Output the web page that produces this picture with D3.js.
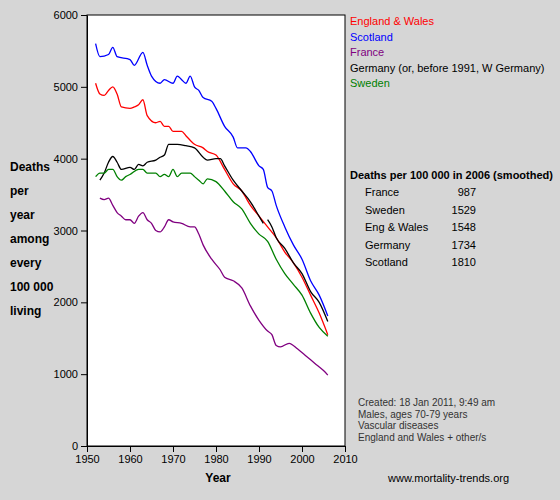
<!DOCTYPE html><html><head><meta charset="utf-8"><script src="https://cdn.jsdelivr.net/npm/d3@7"></script>
<style>body{margin:0;background:#d6d6d6;}text{font-family:Arial,"Liberation Sans",sans-serif;}</style></head><body><svg id="c" width="560" height="500"></svg><script>
const seriesNames=["England & Wales","Scotland","France","Germany (or, before 1991, W Germany)","Sweden"];
const colors=["#ff0000","#0000ff","#800080","#000000","#008000"];
const ew=[[1952,5050],[1953,4900],[1954,4880],[1955,4950],[1956,5000],[1957,4900],[1958,4720],[1960,4700],[1961,4720],[1962,4750],[1963,4820],[1964,4600],[1966,4500],[1967,4520],[1968,4450],[1969,4450],[1970,4380],[1972,4380],[1973,4320],[1975,4200],[1977,4150],[1978,4100],[1980,4050],[1982,3850],[1984,3650],[1986,3550],[1988,3350],[1990,3200],[1992,3050],[1994,2900],[1996,2700],[1998,2550],[2000,2350],[2002,2100],[2004,1850],[2006,1548]];
const scot=[[1952,5600],[1953,5420],[1955,5450],[1956,5550],[1957,5420],[1960,5380],[1961,5300],[1963,5480],[1964,5300],[1965,5150],[1967,5050],[1968,5100],[1970,5050],[1971,5150],[1972,5100],[1973,5050],[1974,5150],[1975,5000],[1976,4950],[1977,4850],[1979,4800],[1980,4700],[1982,4450],[1984,4300],[1985,4150],[1987,4150],[1988,4100],[1990,3900],[1991,3850],[1992,3600],[1993,3550],[1994,3350],[1996,3050],[1998,2800],[2000,2600],[2002,2300],[2004,2100],[2006,1810]];
const france=[[1953,3450],[1954,3430],[1955,3450],[1956,3350],[1957,3250],[1958,3200],[1959,3150],[1960,3150],[1961,3100],[1962,3200],[1963,3250],[1964,3150],[1965,3100],[1966,3000],[1967,2980],[1968,3050],[1969,3150],[1970,3120],[1972,3100],[1974,3050],[1975,3050],[1976,2950],[1977,2800],[1979,2600],[1981,2450],[1982,2350],[1984,2300],[1986,2200],[1988,1950],[1990,1750],[1992,1600],[1993,1550],[1994,1400],[1995,1380],[1997,1430],[1999,1350],[2001,1250],[2003,1150],[2005,1050],[2006,987]];
const germanyW=[[1953,3700],[1954,3800],[1955,3950],[1956,4030],[1957,3950],[1958,3850],[1960,3880],[1961,3850],[1962,3920],[1963,3900],[1964,3950],[1966,3980],[1967,4020],[1968,4050],[1969,4200],[1971,4200],[1973,4180],[1975,4150],[1977,4020],[1978,3980],[1980,4000],[1981,4000],[1982,3900],[1984,3700],[1986,3550],[1988,3400],[1990,3200],[1991,3100]];
const germany=[[1992,3150],[1993,3050],[1994,2900],[1996,2750],[1998,2550],[2000,2400],[2002,2150],[2004,2000],[2006,1734]];
const sweden=[[1952,3750],[1953,3800],[1954,3800],[1955,3850],[1956,3850],[1957,3750],[1958,3700],[1959,3750],[1960,3780],[1962,3850],[1963,3850],[1964,3800],[1966,3800],[1967,3750],[1968,3780],[1969,3750],[1970,3850],[1971,3750],[1972,3800],[1974,3800],[1975,3750],[1976,3700],[1977,3650],[1978,3720],[1980,3680],[1982,3550],[1984,3400],[1986,3300],[1988,3100],[1990,2950],[1992,2850],[1994,2600],[1996,2400],[1998,2250],[2000,2100],[2002,1850],[2004,1650],[2006,1529]];
const tableNames=["France","Sweden","Eng & Wales","Germany","Scotland"];
const tableValues=[987,1529,1548,1734,1810];
const notes=["Created: 18 Jan 2011, 9:49 am","Males, ages 70-79 years","Vascular diseases","England and Wales + other/s"];
const yLabel=["Deaths","per","year","among","every","100 000","living"];

const svg=d3.select("#c");
const x=d3.scaleLinear().domain([1950,2010]).range([87,345]);
const y=d3.scaleLinear().domain([0,6000]).range([446,15]);
svg.append("rect").attr("x",87).attr("y",15).attr("width",258).attr("height",431).attr("fill","#fff").attr("stroke","#000");
svg.append("g").attr("transform","translate(0,446)").call(d3.axisBottom(x).tickValues(d3.range(1950,2011,10)).tickFormat(d3.format("d")).tickSizeOuter(0)).call(g=>g.selectAll("text").attr("font-size",11).attr("fill","#000"));
svg.append("g").attr("transform","translate(87,0)").call(d3.axisLeft(y).tickValues(d3.range(0,6001,1000)).tickFormat(d3.format("d")).tickSizeOuter(0)).call(g=>g.selectAll("text").attr("font-size",11).attr("fill","#000"));
const line=d3.line().x(d=>x(d[0])).y(d=>y(d[1])).curve(d3.curveMonotoneX);
const lines=[[ew,0],[scot,1],[france,2],[germanyW,3],[germany,3],[sweden,4]];
lines.forEach(([d,i])=>svg.append("path").attr("d",line(d)).attr("fill","none").attr("stroke",colors[i]).attr("stroke-width",1.3));
seriesNames.forEach((n,i)=>svg.append("text").attr("x",350).attr("y",25+i*15.5).attr("font-size",11).attr("fill",colors[i]).text(n));
svg.append("text").attr("x",350).attr("y",179).attr("font-size",11).attr("font-weight","bold").text("Deaths per 100 000 in 2006 (smoothed)");
tableNames.forEach((n,i)=>{svg.append("text").attr("x",365).attr("y",196+i*17.5).attr("font-size",11).text(n);
svg.append("text").attr("x",476).attr("y",196+i*17.5).attr("font-size",11).attr("text-anchor","end").text(tableValues[i]);});
notes.forEach((n,i)=>svg.append("text").attr("x",358).attr("y",406+i*11.5).attr("font-size",10).attr("fill","#333").text(n));
svg.append("text").attr("x",388).attr("y",482).attr("font-size",11).text("www.mortality-trends.org");
svg.append("text").attr("x",218).attr("y",482).attr("font-size",12).attr("font-weight","bold").attr("text-anchor","middle").text("Year");
yLabel.forEach((t,i)=>svg.append("text").attr("x",10).attr("y",171+i*24).attr("font-size",12).attr("font-weight","bold").text(t));
</script></body></html>
